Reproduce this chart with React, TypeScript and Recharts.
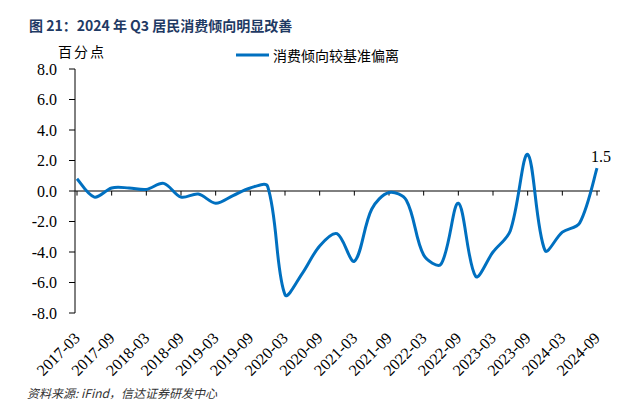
import React from 'react';
import { LineChart, Line, XAxis, YAxis, ReferenceLine } from 'recharts';

const quarters = [
  '2017-03', '2017-06', '2017-09', '2017-12',
  '2018-03', '2018-06', '2018-09', '2018-12',
  '2019-03', '2019-06', '2019-09', '2019-12',
  '2020-03', '2020-06', '2020-09', '2020-12',
  '2021-03', '2021-06', '2021-09', '2021-12',
  '2022-03', '2022-06', '2022-09', '2022-12',
  '2023-03', '2023-06', '2023-09', '2023-12',
  '2024-03', '2024-06', '2024-09',
];
const deviation = [
  0.8, -0.4, 0.2, 0.2,
  0.1, 0.5, -0.4, -0.2,
  -0.8, -0.3, 0.2, 0.3,
  -6.8, -5.4, -3.6, -2.8,
  -4.6, -1.2, -0.1, -0.6,
  -4.2, -4.8, -0.8, -5.6,
  -4.0, -2.6, 2.4, -3.9,
  -2.7, -2.1, 1.5,
];
const yTicks = [-8, -6, -4, -2, 0, 2, 4, 6, 8];
const seriesName = '消费倾向较基准偏离';

const data = quarters.map((q, i) => ({ q, v: deviation[i] }));
const tickQuarters = quarters.filter((_, i) => i % 2 === 0);

// Smoothed curve, chord-weighted cardinal spline (similar to Office "smoothed line")
const smoothCurve: any = (context: any) => {
  let pts: [number, number][] = [];
  return {
    areaStart() {},
    areaEnd() {},
    lineStart() { pts = []; },
    lineEnd() {
      const n = pts.length;
      if (!n) return;
      const dist = (a: [number, number], b: [number, number]) => Math.hypot(b[0] - a[0], b[1] - a[1]);
      const outArm: [number, number][] = [];
      const inArm: [number, number][] = [];
      for (let i = 0; i < n; i++) {
        const prev = pts[Math.max(i - 1, 0)];
        const next = pts[Math.min(i + 1, n - 1)];
        const dp = dist(prev, pts[i]);
        const dn = dist(pts[i], next);
        const sum = dp + dn || 1;
        const mx = (next[0] - prev[0]) / sum;
        const my = (next[1] - prev[1]) / sum;
        const k = 1 / 3;
        const fo = i === 0 ? 0.5 : 1;
        const fi = i === n - 1 ? 0.5 : 1;
        outArm.push([mx * dn * k * fo, my * dn * k * fo]);
        inArm.push([mx * dp * k * fi, my * dp * k * fi]);
      }
      context.moveTo(pts[0][0], pts[0][1]);
      for (let i = 0; i < n - 1; i++) {
        const p1 = pts[i];
        const p2 = pts[i + 1];
        context.bezierCurveTo(
          p1[0] + outArm[i][0], p1[1] + outArm[i][1],
          p2[0] - inArm[i + 1][0], p2[1] - inArm[i + 1][1],
          p2[0], p2[1]
        );
      }
    },
    point(x: number, y: number) { pts.push([x, y]); },
  };
};

const serif = '"Liberation Serif", "Times New Roman", serif';
const cjk = '"Noto Sans CJK SC", sans-serif';

const XTick = (props: any) => {
  const { x, y, payload } = props;
  const ax = x + 4;
  const ay = y + 18;
  return (
    <text x={ax} y={ay} transform={`rotate(-45, ${ax}, ${ay})`} textAnchor="end"
      fontFamily={serif} fontSize={16} fill="#000">{payload.value}</text>
  );
};

const LastLabel = (props: any) => {
  const { x, y, index, value } = props;
  if (index !== deviation.length - 1) return null;
  return (
    <text x={x + 4} y={y - 6} textAnchor="middle" fontFamily={serif} fontSize={16} fill="#000">
      {Number(value).toFixed(1)}
    </text>
  );
};

export default function App() {
  return (
    <div style={{ position: 'absolute', left: 0, top: 0, width: 623, height: 404, background: '#fff' }}>
      <div style={{ position: 'absolute', left: 29, top: 15, fontFamily: cjk, fontWeight: 700, fontSize: 14, color: '#1F3A64', whiteSpace: 'nowrap' }}>
        图 21：2024 年 Q3 居民消费倾向明显改善
      </div>
      <div style={{ position: 'absolute', left: 58, top: 41, fontFamily: cjk, fontSize: 14, color: '#000', letterSpacing: 2 }}>
        百分点
      </div>
      <div style={{ position: 'absolute', left: 236, top: 45, display: 'flex', alignItems: 'center', fontFamily: cjk, fontSize: 14, color: '#000', whiteSpace: 'nowrap' }}>
        <svg width={33} height={8} style={{ marginRight: 4 }}>
          <line x1={0} y1={4} x2={33} y2={4} stroke="#0070C0" strokeWidth={3} />
        </svg>
        <span>{seriesName}</span>
      </div>
      <LineChart width={623} height={404} data={data} margin={{ top: 69, right: 23, bottom: 0, left: 0 }}>
        <XAxis dataKey="q" interval={1} tick={<XTick />} tickLine={false} axisLine={false}
          padding={{ left: 2, right: 3 }} height={91} />
        <YAxis domain={[-8, 8]} ticks={yTicks} interval={0} width={75} tickSize={6} tickMargin={12}
          tickFormatter={(v: number) => v.toFixed(1)}
          tick={{ fontFamily: serif, fontSize: 16, fill: '#000' }}
          axisLine={{ stroke: '#000' }} tickLine={{ stroke: '#000' }} />
        <ReferenceLine y={0} stroke="#000" strokeWidth={1} />
        {tickQuarters.map((q) => (
          <ReferenceLine key={q} segment={[{ x: q, y: 0 }, { x: q, y: -0.3 }]} stroke="#000" strokeWidth={1} />
        ))}
        <Line dataKey="v" name={seriesName} type={smoothCurve} stroke="#0070C0" strokeWidth={3}
          dot={false} isAnimationActive={false} label={<LastLabel />} />
      </LineChart>
      <div style={{ position: 'absolute', left: 27, top: 384, fontFamily: cjk, fontStyle: 'italic', fontSize: 12, color: '#333', whiteSpace: 'nowrap' }}>
        资料来源: iFind，信达证券研发中心
      </div>
    </div>
  );
}
